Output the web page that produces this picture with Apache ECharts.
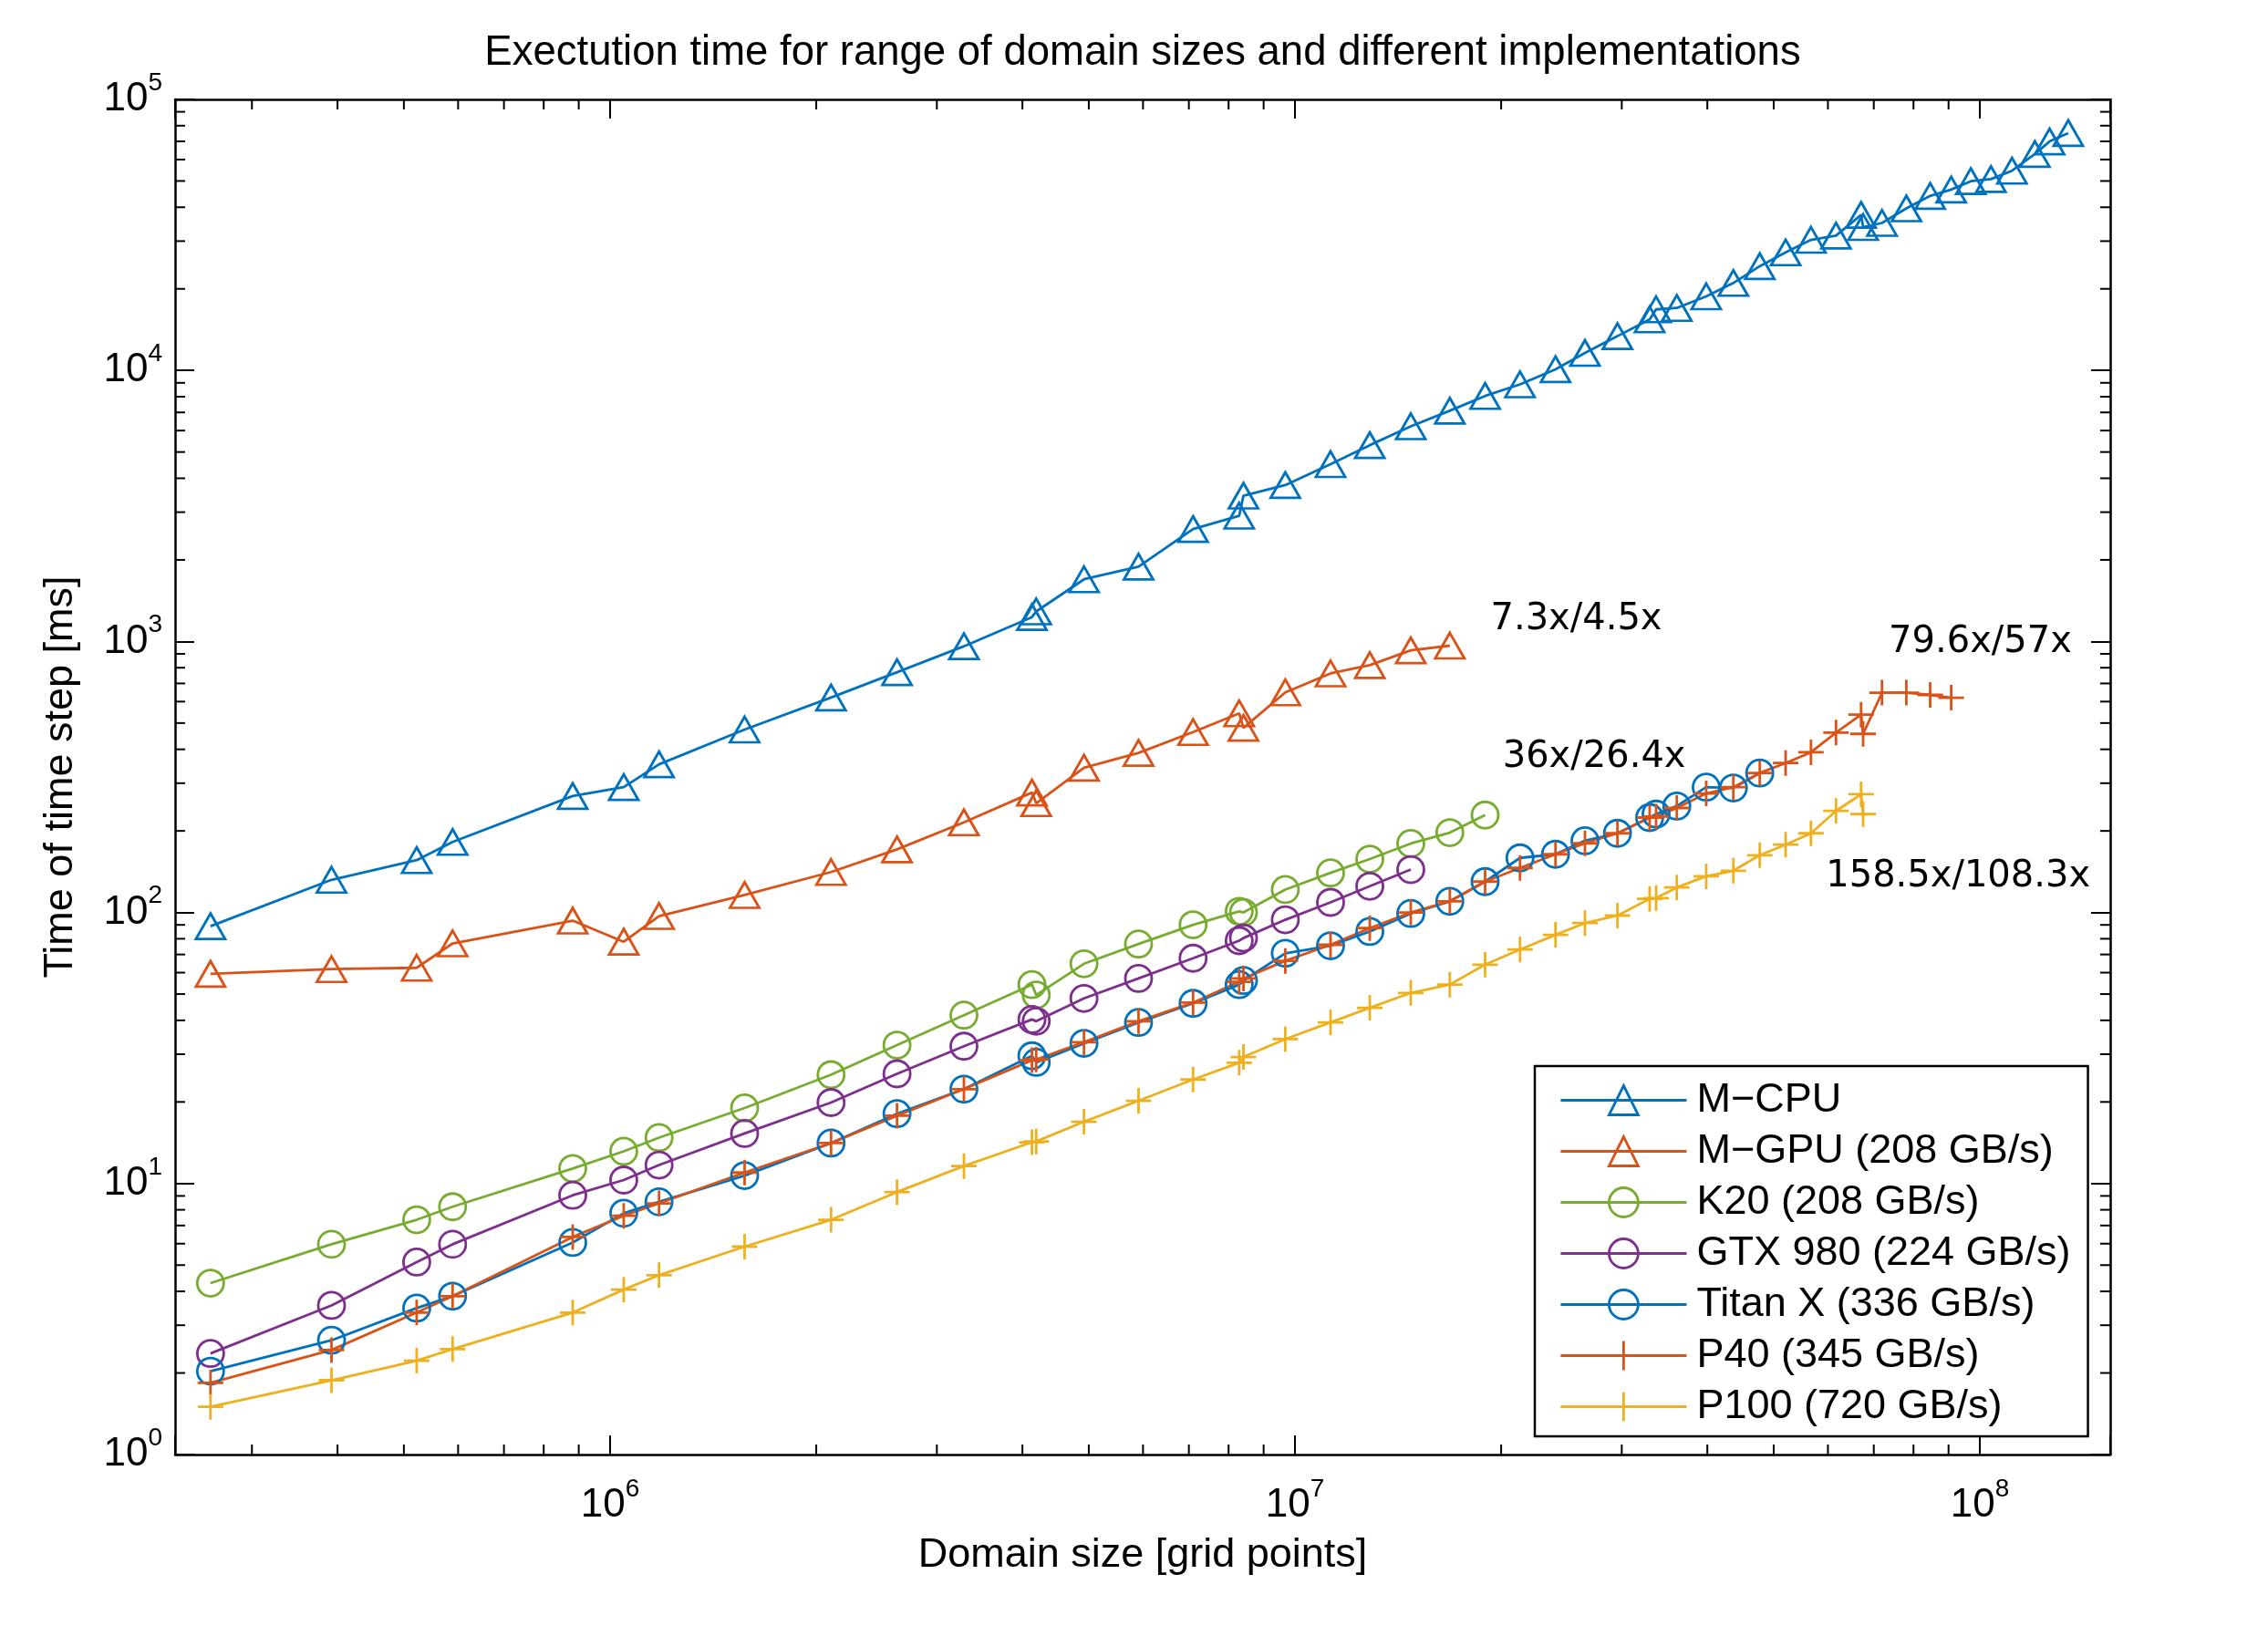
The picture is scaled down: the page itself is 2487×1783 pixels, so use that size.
<!DOCTYPE html>
<html>
<head>
<meta charset="utf-8">
<title>Execution time</title>
<script src="https://cdn.jsdelivr.net/npm/echarts@6/dist/echarts.min.js"></script>
<style>
html,body{margin:0;padding:0;background:#fff;}
#main{width:2487px;height:1783px;}
</style>
</head>
<body>
<div id="main"></div>
<script>
// domain sizes (grid points), shared by all series; each series uses the first N of them
var domainSize = [2.61e5, 3.92e5, 5.22e5, 5.89e5, 8.82e5, 1.047e6, 1.179e6, 1.572e6, 2.102e6, 2.624e6,
    3.286e6, 4.13e6, 4.19e6, 4.92e6, 5.91e6, 7.10e6, 8.29e6, 8.41e6, 9.68e6, 1.127e7,
    1.286e7, 1.476e7, 1.683e7, 1.895e7, 2.131e7, 2.401e7, 2.651e7, 2.957e7, 3.295e7, 3.367e7,
    3.61e7, 3.985e7, 4.366e7, 4.771e7, 5.205e7, 5.667e7, 6.165e7, 6.708e7, 6.754e7, 7.196e7,
    7.81e7, 8.461e7, 9.081e7, 9.701e7, 1.038e8, 1.114e8, 1.203e8, 1.264e8, 1.346e8];

// time of one time step [ms]
var mCpu = [89, 132, 156, 182, 269, 290, 352, 473, 621, 770,
    960, 1230, 1290, 1696, 1888, 2600, 2910, 3450, 3776, 4510,
    5300, 6220, 7100, 8050, 8880, 10100, 11600, 13380, 15430, 16800,
    17000, 18760, 21020, 24240, 27250, 30320, 31430, 37500, 33800, 35000,
    39600, 44050, 46480, 49920, 50800, 54560, 62880, 69970, 75130];
var mGpu = [59.4, 61.8, 62.5, 76.9, 93.3, 78, 97, 116, 141, 171,
    215, 277, 253, 342, 388, 463, 543, 480, 649, 762,
    818, 927, 965];
var k20 = [4.29, 5.97, 7.35, 8.21, 11.36, 13.15, 14.77, 19.0, 25.2, 32.4,
    41.8, 54.2, 49.6, 64.7, 76.5, 90.1, 101, 100, 121.5, 140,
    157.4, 179.7, 197, 228.8];
var gtx980 = [2.36, 3.55, 5.13, 5.97, 9.05, 10.3, 11.7, 15.3, 19.9, 25.4,
    32.1, 40.3, 39.7, 48.2, 57.1, 67.8, 78.7, 80.5, 94, 109,
    125, 144];
var titanX = [2.03, 2.64, 3.47, 3.84, 6.06, 7.77, 8.56, 10.7, 14.1, 18.1,
    22.3, 29.6, 28.0, 32.9, 39.3, 46.2, 54.2, 56.1, 70.7, 75.4,
    85.1, 99.2, 110, 130, 159, 164, 184, 196, 224, 230.6,
    247, 290, 288, 327];
var p40 = [1.84, 2.43, 3.34, 3.84, 6.35, 7.60, 8.45, 10.98, 14.1, 17.8,
    22.3, 28.5, 28.7, 33.2, 39.7, 46.5, 55.5, 57.1, 66.3, 76.0,
    87.6, 100, 110, 130, 146, 164, 180, 196, 224, 226,
    243, 275, 290, 327, 356, 390, 461, 537, 456, 647,
    647, 635, 620];
var p100 = [1.50, 1.88, 2.22, 2.45, 3.34, 4.06, 4.59, 5.85, 7.35, 9.30,
    11.6, 14.2, 14.3, 16.9, 20.2, 24.2, 27.9, 29.3, 34.1, 39.3,
    44.5, 50.5, 54.2, 64.2, 73, 82.7, 91.4, 97.4, 112.3, 113,
    123.7, 136, 142.6, 162.7, 178, 196, 237, 273, 230.6];

var seriesNames = ['M\u2212CPU', 'M\u2212GPU (208 GB/s)', 'K20 (208 GB/s)', 'GTX 980 (224 GB/s)',
    'Titan X (336 GB/s)', 'P40 (345 GB/s)', 'P100 (720 GB/s)'];

// minor tick values of the log axes
var xMinorTicks = [3e5, 4e5, 5e5, 6e5, 7e5, 8e5, 9e5,
    2e6, 3e6, 4e6, 5e6, 6e6, 7e6, 8e6, 9e6,
    2e7, 3e7, 4e7, 5e7, 6e7, 7e7, 8e7, 9e7];
var yMinorTicks = [2, 3, 4, 5, 6, 7, 8, 9,
    20, 30, 40, 50, 60, 70, 80, 90,
    200, 300, 400, 500, 600, 700, 800, 900,
    2000, 3000, 4000, 5000, 6000, 7000, 8000, 9000,
    20000, 30000, 40000, 50000, 60000, 70000, 80000, 90000];

// speed-up notes, placed in data coordinates
var noteText = ['7.3x/4.5x', '79.6x/57x', '36x/26.4x', '158.5x/108.3x'];
var noteX = [1.93e7, 7.36e7, 2.01e7, 5.96e7];
var noteY = [1198, 988, 372, 135];

var X_MIN = 2.317e5, X_MAX = 1.55e8, Y_MIN = 1, Y_MAX = 1e5;
var FONT = 'Liberation Sans';
var PLUS = 'path://M0,-10L0,10M-10,0L10,0';

var _page = {
    init: function () {
        this.drawChart();
    },
    pairs: function (ys) {
        return ys.map(function (y, i) { return [domainSize[i], y]; });
    },
    powLabel: function (v) {
        var e = Math.round(Math.log(v) / Math.LN10);
        if (Math.abs(Math.log(v) / Math.LN10 - e) > 1e-6) return '';
        return '{b|10}{s|' + e + '}';
    },
    drawChart: function () {
        var self = this;
        var myChart = echarts.init(document.getElementById('main'));
        var lines = [
            {values: mCpu, color: '#0072BD', symbol: 'triangle', size: [32, 28]},
            {values: mGpu, color: '#D95319', symbol: 'triangle', size: [32, 28]},
            {values: k20, color: '#77AC30', symbol: 'circle', size: 29},
            {values: gtx980, color: '#7E2F8E', symbol: 'circle', size: 29},
            {values: titanX, color: '#0072BD', symbol: 'circle', size: 29},
            {values: p40, color: '#D95319', symbol: PLUS, size: 28},
            {values: p100, color: '#EDB120', symbol: PLUS, size: 28}
        ];
        var rich = {
            b: {fontFamily: FONT, fontSize: 44, lineHeight: 64, color: '#000'},
            s: {fontFamily: FONT, fontSize: 28, lineHeight: 28, verticalAlign: 'top', color: '#000'}
        };
        var axisLine = {show: true, onZero: false, lineStyle: {color: '#000', width: 2.5}};
        var majorTick = {show: true, inside: true, length: 21, lineStyle: {color: '#000', width: 2}};
        var MINOR = 11;
        var LW = 2.8;

        var series = lines.map(function (s, i) {
            return {
                name: seriesNames[i],
                type: 'line',
                data: self.pairs(s.values),
                symbol: s.symbol,
                symbolSize: s.size,
                showSymbol: true,
                lineStyle: {color: s.color, width: LW},
                itemStyle: {color: 'transparent', borderColor: s.color, borderWidth: LW},
                emphasis: {disabled: true},
                z: 3
            };
        });
        // minor ticks on bottom/top
        series.push({
            type: 'custom', silent: true, z: 4,
            data: xMinorTicks.map(function (v) { return [v, Y_MIN]; }),
            renderItem: function (params, api) {
                var cs = params.coordSys;
                var px = api.coord([api.value(0), Y_MIN])[0];
                var st = {stroke: '#000', lineWidth: 2};
                return {type: 'group', children: [
                    {type: 'line', shape: {x1: px, y1: cs.y + cs.height, x2: px, y2: cs.y + cs.height - MINOR}, style: st},
                    {type: 'line', shape: {x1: px, y1: cs.y, x2: px, y2: cs.y + MINOR}, style: st}
                ]};
            }
        });
        // minor ticks on left/right
        series.push({
            type: 'custom', silent: true, z: 4,
            data: yMinorTicks.map(function (v) { return [X_MIN, v]; }),
            renderItem: function (params, api) {
                var cs = params.coordSys;
                var py = api.coord([X_MIN, api.value(1)])[1];
                var st = {stroke: '#000', lineWidth: 2};
                return {type: 'group', children: [
                    {type: 'line', shape: {x1: cs.x, y1: py, x2: cs.x + MINOR, y2: py}, style: st},
                    {type: 'line', shape: {x1: cs.x + cs.width, y1: py, x2: cs.x + cs.width - MINOR, y2: py}, style: st}
                ]};
            }
        });
        // speed-up notes
        series.push({
            type: 'custom', silent: true, z: 5,
            data: noteText.map(function (t, i) { return [noteX[i], noteY[i]]; }),
            renderItem: function (params, api) {
                var p = api.coord([api.value(0), api.value(1)]);
                return {type: 'text', x: p[0], y: p[1], style: {
                    text: noteText[params.dataIndex], fontFamily: 'DejaVu Sans', fontSize: 40,
                    fill: '#000', align: 'left', verticalAlign: 'middle'
                }};
            }
        });

        var option = {
            animation: false,
            backgroundColor: '#fff',
            textStyle: {fontFamily: FONT},
            title: {
                text: 'Exectution time for range of domain sizes and different implementations',
                left: 1253, top: 33, textAlign: 'center', padding: 0,
                textStyle: {fontFamily: FONT, fontSize: 45.5, fontWeight: 'normal', color: '#000', lineHeight: 50}
            },
            grid: {left: 192, right: 173, top: 109, bottom: 188},
            legend: {
                orient: 'vertical', left: 1683, top: 1169,
                padding: [15, 19, 10, 27],
                itemWidth: 138, itemHeight: 40, itemGap: 11,
                borderColor: '#000', borderWidth: 2.5, backgroundColor: '#fff',
                selectedMode: false,
                textStyle: {fontFamily: FONT, fontSize: 45, color: '#000', lineHeight: 40, padding: [0, 0, 0, 6]},
                data: lines.map(function (s, i) {
                    return {
                        name: seriesNames[i],
                        itemStyle: {color: 'transparent', borderColor: s.color, borderWidth: LW},
                        lineStyle: {color: s.color, width: LW}
                    };
                })
            },
            xAxis: [
                {
                    type: 'log', logBase: 10, min: X_MIN, max: X_MAX, position: 'bottom',
                    name: 'Domain size [grid points]', nameLocation: 'middle', nameGap: 88,
                    nameTextStyle: {fontFamily: FONT, fontSize: 45, color: '#000'},
                    axisLine: axisLine, axisTick: majorTick,
                    axisLabel: {formatter: self.powLabel, margin: 24, rich: rich},
                    splitLine: {show: false}, minorTick: {show: false}
                },
                {
                    type: 'log', logBase: 10, min: X_MIN, max: X_MAX, position: 'top',
                    axisLine: axisLine, axisTick: majorTick,
                    axisLabel: {show: false}, splitLine: {show: false}
                }
            ],
            yAxis: [
                {
                    type: 'log', logBase: 10, min: Y_MIN, max: Y_MAX, position: 'left',
                    name: 'Time of time step [ms]', nameLocation: 'middle', nameGap: 103,
                    nameTextStyle: {fontFamily: FONT, fontSize: 45, color: '#000'},
                    axisLine: axisLine, axisTick: majorTick,
                    axisLabel: {formatter: self.powLabel, margin: 14, rich: rich},
                    splitLine: {show: false}, minorTick: {show: false}
                },
                {
                    type: 'log', logBase: 10, min: Y_MIN, max: Y_MAX, position: 'right',
                    axisLine: axisLine, axisTick: majorTick,
                    axisLabel: {show: false}, splitLine: {show: false}
                }
            ],
            series: series
        };
        myChart.setOption(option);
    }
};
_page.init();
</script>
</body>
</html>
